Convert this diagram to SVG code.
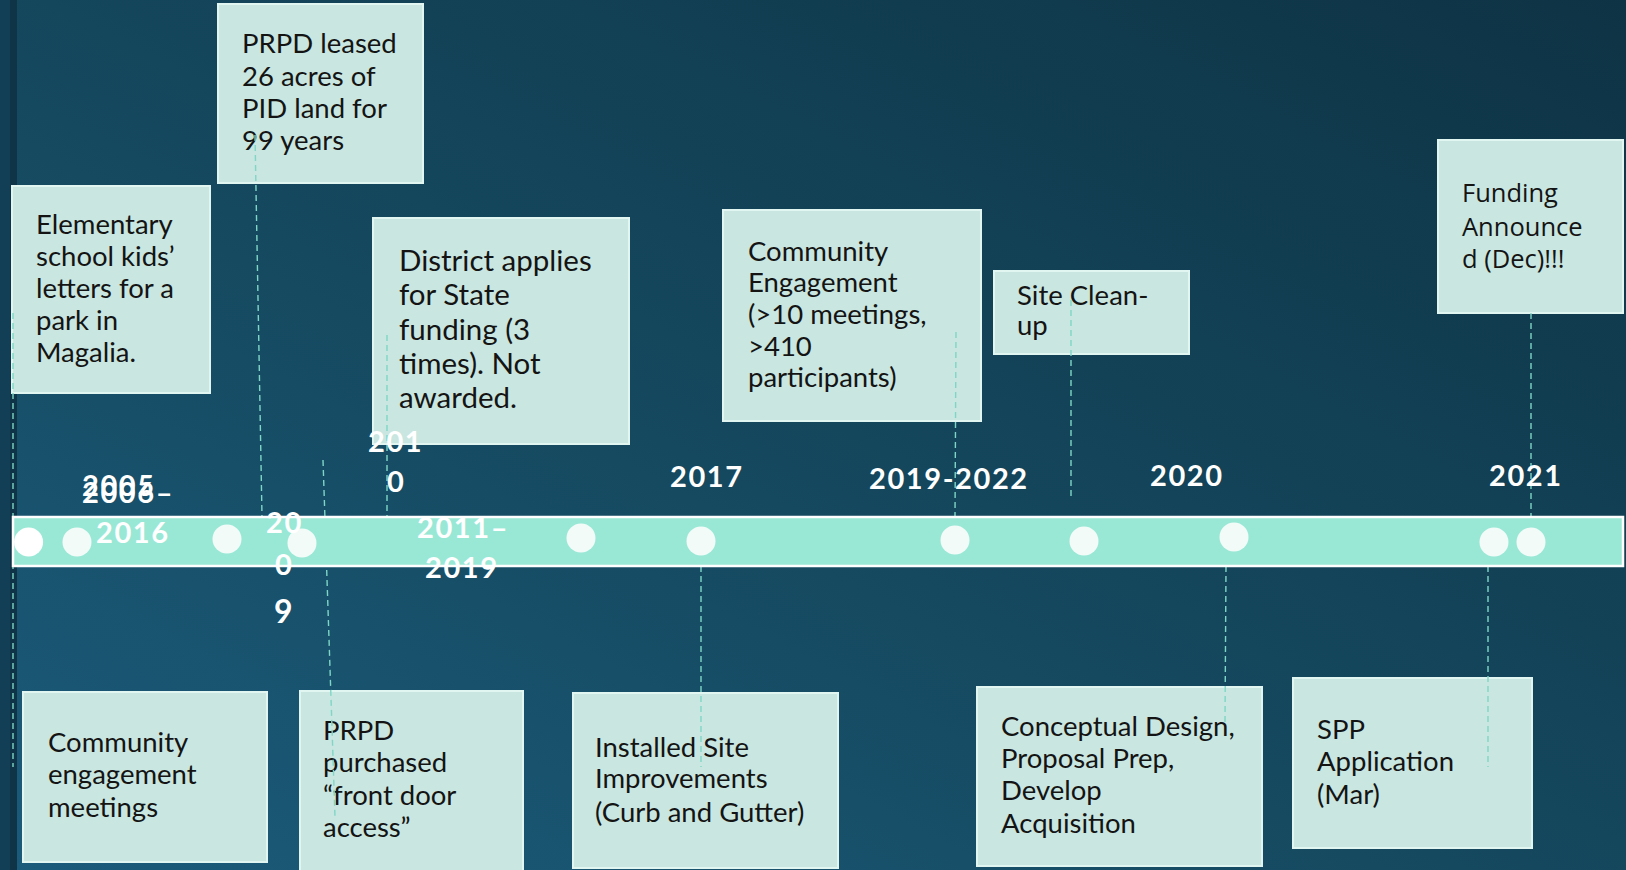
<svg xmlns="http://www.w3.org/2000/svg" width="1626" height="870" viewBox="0 0 1626 870">
<defs>
<linearGradient id="bg" x1="0" y1="1" x2="1" y2="0">
<stop offset="0" stop-color="#1b5b7b"/>
<stop offset="0.45" stop-color="#15495f"/>
<stop offset="1" stop-color="#0e3345"/>
</linearGradient>
<style>
.box{fill:#c9e6e0;stroke:#e2f6f1;stroke-width:2}
.t{font-family:Lato,"Open Sans","Liberation Sans",sans-serif;font-size:27.5px;fill:#141414}
.t2{font-family:"Open Sans","Noto Sans",sans-serif;font-size:25.5px;fill:#141414}
.yr{font-family:Lato,"Open Sans","Liberation Sans",sans-serif;font-size:29px;font-weight:bold;fill:#ffffff;letter-spacing:1.6px}
.dl{stroke:#7fd6c6;stroke-width:1.4;stroke-dasharray:6 4;fill:none}
.dot{fill:#f2fbf8}
</style>
</defs>
<rect width="1626" height="870" fill="url(#bg)"/>
<rect x="0" y="0" width="10" height="870" fill="#133f56"/>
<rect x="10" y="0" width="7" height="870" fill="#0f3347"/>

<g id="n-elementary"><rect class="box" x="12" y="186" width="198" height="207"/>
<text class="t" x="36"><tspan x="36" y="234">Elementary</tspan><tspan x="36" y="266">school kids’</tspan><tspan x="36" y="298">letters for a</tspan><tspan x="36" y="330">park in</tspan><tspan x="36" y="362">Magalia.</tspan></text></g>

<g id="n-leased"><rect class="box" x="218" y="4" width="205" height="179"/>
<text class="t" x="242"><tspan x="242" y="53">PRPD leased</tspan><tspan x="242" y="86">26 acres of</tspan><tspan x="242" y="118">PID land for</tspan><tspan x="242" y="150">99 years</tspan></text></g>

<g id="n-district"><rect class="box" x="373" y="218" width="256" height="226"/>
<text class="t" style="font-size:29.5px" x="399"><tspan x="399" y="271">District applies</tspan><tspan x="399" y="305">for State</tspan><tspan x="399" y="340">funding (3</tspan><tspan x="399" y="374">times). Not</tspan><tspan x="399" y="408">awarded.</tspan></text></g>

<g id="n-engagement"><rect class="box" x="723" y="210" width="258" height="211"/>
<text class="t" x="748"><tspan x="748" y="261">Community</tspan><tspan x="748" y="292">Engagement</tspan><tspan x="748" y="324">(&gt;10 meetings,</tspan><tspan x="748" y="356">&gt;410</tspan><tspan x="748" y="387">participants)</tspan></text></g>

<g id="n-cleanup"><rect class="box" x="994" y="271" width="195" height="83"/>
<text class="t" x="1017"><tspan x="1017" y="305">Site Clean-</tspan><tspan x="1017" y="335">up</tspan></text></g>

<g id="n-funding"><rect class="box" x="1438" y="140" width="185" height="173"/>
<text class="t2" x="1462"><tspan x="1462" y="202">Funding</tspan><tspan x="1462" y="236">Announce</tspan><tspan x="1462" y="268">d (Dec)!!!</tspan></text></g>

<g id="n-meetings"><rect class="box" x="23" y="692" width="244" height="170"/>
<text class="t" x="48"><tspan x="48" y="752">Community</tspan><tspan x="48" y="784">engagement</tspan><tspan x="48" y="817">meetings</tspan></text></g>

<g id="n-purchased"><rect class="box" x="300" y="691" width="223" height="185"/>
<text class="t" x="323"><tspan x="323" y="740">PRPD</tspan><tspan x="323" y="772">purchased</tspan><tspan x="323" y="805">“front door</tspan><tspan x="323" y="837">access”</tspan></text></g>

<g id="n-installed"><rect class="box" x="573" y="693" width="265" height="175"/>
<text class="t" x="595"><tspan x="595" y="757">Installed Site</tspan><tspan x="595" y="788">Improvements</tspan><tspan x="595" y="822">(Curb and Gutter)</tspan></text></g>

<g id="n-conceptual"><rect class="box" x="977" y="687" width="285" height="179"/>
<text class="t" x="1001"><tspan x="1001" y="736">Conceptual Design,</tspan><tspan x="1001" y="768">Proposal Prep,</tspan><tspan x="1001" y="800">Develop</tspan><tspan x="1001" y="833">Acquisition</tspan></text></g>

<g id="n-spp"><rect class="box" x="1293" y="678" width="239" height="170"/>
<text class="t" x="1317"><tspan x="1317" y="739">SPP</tspan><tspan x="1317" y="771">Application</tspan><tspan x="1317" y="804">(Mar)</tspan></text></g>

<g id="connectors">
<line class="dl" x1="13" y1="313" x2="13" y2="767"/>
<line class="dl" x1="255" y1="135" x2="262" y2="517"/>
<line class="dl" x1="323" y1="460" x2="335" y2="817"/>
<line class="dl" x1="387" y1="335" x2="387" y2="517"/>
<line class="dl" x1="701" y1="566" x2="701" y2="767"/>
<line class="dl" x1="956" y1="332" x2="955" y2="517"/>
<line class="dl" x1="1071" y1="300" x2="1071" y2="500"/>
<line class="dl" x1="1226" y1="566" x2="1225" y2="723"/>
<line class="dl" x1="1531" y1="313" x2="1531" y2="517"/>
<line class="dl" x1="1488" y1="566" x2="1488" y2="767"/>
</g>

<g id="timeline">
<rect x="13" y="517" width="1610" height="49" fill="#99e8d6" stroke="#ffffff" stroke-width="2.5"/>
<circle cx="28.6" cy="542" r="14.5" fill="#ffffff"/>
<circle class="dot" cx="77" cy="542" r="14.5"/>
<circle class="dot" cx="227" cy="539" r="14.5"/>
<circle class="dot" cx="302" cy="543" r="14.5"/>
<circle class="dot" cx="581" cy="538" r="14.5"/>
<circle class="dot" cx="701" cy="541" r="14.5"/>
<circle class="dot" cx="955" cy="540" r="14.5"/>
<circle class="dot" cx="1084" cy="541" r="14.5"/>
<circle class="dot" cx="1234" cy="537" r="14.5"/>
<circle class="dot" cx="1494" cy="542" r="14.5"/>
<circle class="dot" cx="1531" cy="542" r="14.5"/>
</g>

<g id="years">
<text class="yr" x="82" y="496">2005</text>
<text class="yr" x="82" y="503">2006–</text>
<text class="yr" x="96" y="543">2016</text>
<text class="yr" x="266" y="533">20</text>
<text class="yr" x="275" y="575">0</text>
<text class="yr" x="274" y="623" style="font-size:32px">9</text>
<text class="yr" x="368" y="452">201</text>
<text class="yr" x="387" y="492">0</text>
<text class="yr" x="417" y="538">2011–</text>
<text class="yr" x="425" y="578">2019</text>
<text class="yr" x="670" y="487">2017</text>
<text class="yr" x="869" y="489">2019-2022</text>
<text class="yr" x="1150" y="486">2020</text>
<text class="yr" x="1489" y="486">2021</text>
</g>
</svg>
